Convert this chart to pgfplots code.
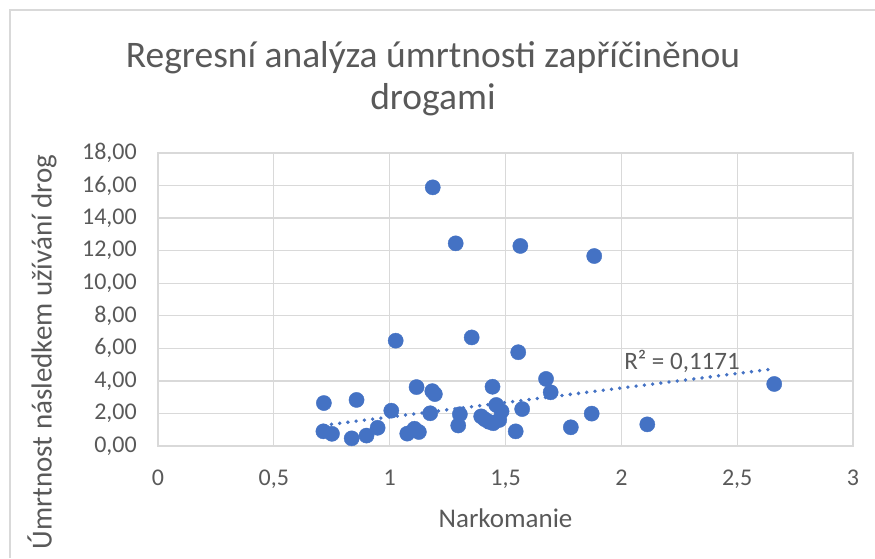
\documentclass[border=0pt]{standalone}
\usepackage{fontspec}
\setmainfont{Carlito}
\usepackage{pgfplots}
\pgfplotsset{compat=1.18}
\definecolor{ptblue}{HTML}{4472C4}
\definecolor{txtgray}{HTML}{595959}
\definecolor{gridgray}{HTML}{D9D9D9}
\begin{document}
\begin{tikzpicture}[x=1pt,y=1pt]
\useasboundingbox (-158,-112) rectangle (717,446);
% chart area border (only top and left visible)
\draw[gridgray, line width=1.3pt] (-148,-112) -- (-148,436) -- (717,436);
% title
\node[anchor=base, text=txtgray, font=\fontsize{37.5}{44}\selectfont] at (275,379) {Regresní analýza úmrtnosti zapříčiněnou};
\node[anchor=base, text=txtgray, font=\fontsize{37.5}{44}\selectfont] at (275,337) {drogami};
\begin{axis}[
    at={(0,0)}, anchor=south west,
    scale only axis,
    width=695pt, height=293pt,
    xmin=0, xmax=3, ymin=0, ymax=18,
    xtick={0,0.5,1,1.5,2,2.5,3},
    xticklabels={0,{0,5},1,{1,5},2,{2,5},3},
    ytick={0,2,4,6,8,10,12,14,16,18},
    yticklabels={{0,00},{2,00},{4,00},{6,00},{8,00},{10,00},{12,00},{14,00},{16,00},{18,00}},
    grid=major,
    major grid style={gridgray, line width=1.3pt},
    axis line style={gridgray, line width=1.3pt},
    tick style={draw=none},
    xticklabel style={anchor=base, yshift=-39pt},
    yticklabel style={anchor=east, inner sep=0pt, xshift=-21pt},
    ticklabel style={font=\fontsize{24}{28}\selectfont, text=txtgray},
    xlabel={Narkomanie},
    ylabel={Úmrtnost následkem užívání drog},
    xlabel style={at={(axis description cs:0.5,-0.2457)}, anchor=center, font=\fontsize{27}{32}\selectfont, text=txtgray},
    ylabel style={at={(axis description cs:-0.167,0.321)}, anchor=center, font=\fontsize{29}{34}\selectfont, text=txtgray},
    clip=false,
]
\addplot[only marks, color=ptblue, mark=*, mark size=7.6pt, mark options={fill=ptblue, draw=none}] coordinates {
    (0.716,2.64) (0.857,2.83) (1.026,6.47) (1.354,6.67) (1.555,5.76)
    (1.675,4.12) (1.695,3.30) (1.116,3.62) (1.184,3.37) (1.195,3.19)
    (1.444,3.64) (1.007,2.17) (1.175,2.01) (1.303,1.95) (1.460,2.52)
    (1.483,2.13) (1.572,2.27) (1.395,1.82) (1.428,1.49) (1.473,1.60)
    (1.296,1.26) (1.544,0.90) (1.782,1.15) (0.714,0.90) (0.751,0.75)
    (0.836,0.47) (0.900,0.64) (0.948,1.12) (1.076,0.76) (1.107,1.06)
    (1.126,0.86) (1.872,1.99) (2.112,1.33) (2.660,3.81) (1.186,15.89)
    (1.285,12.45) (1.564,12.29) (1.883,11.67) (1.447,1.40) (1.410,1.65)
};
\addplot[ptblue, line width=3.8pt, line cap=round, dash pattern=on 0pt off 8.3pt] coordinates {(0.713,1.27) (2.66,4.74)};
\node[text=txtgray, font=\fontsize{25}{29}\selectfont] at (axis cs:2.262,5.19) {R² = 0,1171};
\end{axis}
\end{tikzpicture}
\end{document}
